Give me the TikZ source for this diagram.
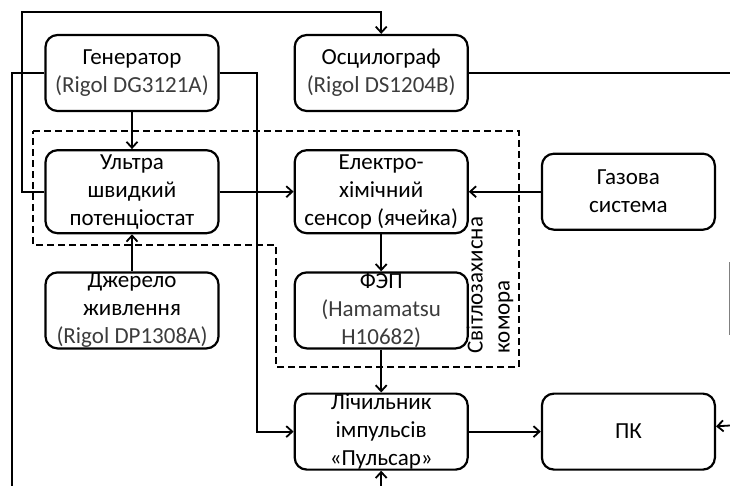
\documentclass[tikz,border=0pt]{standalone}
\usepackage{fontspec}
\setmainfont{Carlito}
\usetikzlibrary{arrows.meta,positioning}
\definecolor{modelgray}{RGB}{60,60,60}
\newcommand{\model}[1]{\textcolor{modelgray}{#1}}

\begin{document}
\begin{tikzpicture}[x=1pt, y=1pt, node distance=37pt and 74pt, >={Straight Barb[length=6pt,width=11pt]},
block/.style = {draw, rectangle, rounded corners=12pt, line width=2.2pt, minimum height=76pt, minimum width=173pt, inner sep=0pt, align=center, font=\fontsize{23}{28}\selectfont},
tall/.style = {minimum height=83pt},
link/.style = {line width=1.8pt}]
    \useasboundingbox (0,0) rectangle (730,-486);
    \node [block]                    (gen)  at (132,-73) {Генератор\\\model{(Rigol DG3121A)}};
    \node [block, right=of gen]      (osc)  {Осцилограф\\\model{(Rigol DS1204B)}};
    \node [block, tall, below=of gen] (pot) {Ультра\\швидкий\\потенціостат};
    \node [block, tall, right=of pot] (sens) {Електро-\\хімічний\\сенсор (ячейка)};
    \node [block, right=72pt of sens] (gas) {Газова\\система};
    \node [block, below=of pot]      (src)  {Джерело\\живлення\\\model{(Rigol DP1308A)}};
    \node [block, below=of sens]     (pmt)  {ФЭП\\\model{(Hamamatsu}\\\model{H10682)}};
    \node [block, below=43pt of pmt] (cnt)  {Лічильник\\імпульсів\\«Пульсар»};
    \node [block, right=72pt of cnt] (pc)   {ПК};
    % light-tight chamber
    \draw [line width=2pt, dash pattern=on 7pt off 4pt] (33,-131) -- (519,-131) -- (519,-367) -- (276,-367) -- (276,-245) -- (33,-245) -- cycle;
    \node [rotate=90, anchor=west, align=left, font=\fontsize{23}{27}\selectfont] (chamber) at (490,-357) {Світлозахисна\\комора};
    \coordinate (looptop)   at (22,-12);
    \coordinate (leftdrop)  at (12,-486);
    \coordinate (bottomedge) at (0,-486);
    \coordinate (cntin)     at (cnt.south |- bottomedge);
    \coordinate (oscout)    at (730,-73);
    \coordinate (pcin)      at (730,-425.5);
    \path[draw,link,->] (gen)  edge (pot)
                   (src)  edge (pot)
                   (pot)  edge (sens)
                   (gas)  edge (sens)
                   (sens) edge (pmt)
                   (pmt)  edge (cnt)
                   (cnt)  edge (pc)
                   (pcin) edge (pc)
                   (cntin) edge (cnt)
                   ;
    \draw [link,->] (pot.west) -| (looptop) -| (osc.north);
    \draw [link,->] (gen.east) -- ++(37,0) |- (cnt.west);
    \draw [line width=1.4pt] (gen.west) -| (leftdrop);
    \draw [link] (osc.east) -- (oscout);
    \draw [gray, line width=1pt] (729,-262) -- (729,-335);
\end{tikzpicture}
\end{document}
